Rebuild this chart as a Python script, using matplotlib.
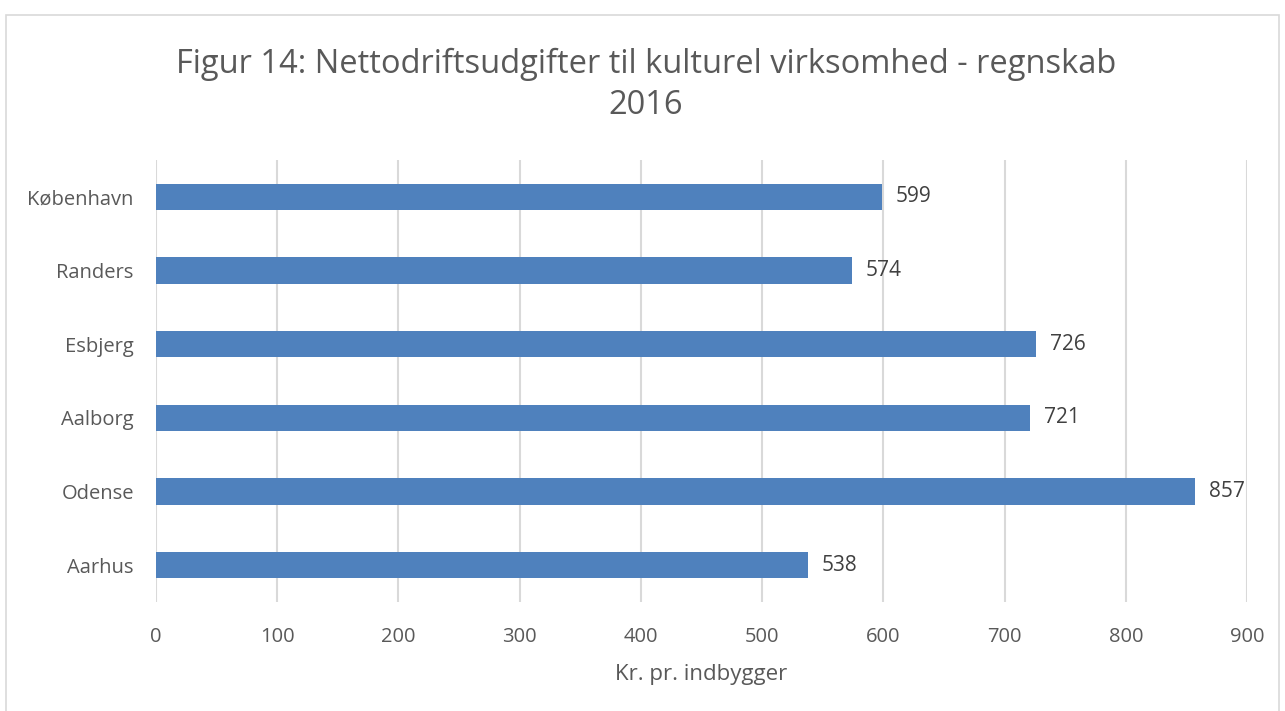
import matplotlib.pyplot as plt
from matplotlib.patches import Rectangle

plt.rcParams['font.family'] = ['Open Sans', 'DejaVu Sans']

# Data (bottom to top)
byer = ["Aarhus", "Odense", "Aalborg", "Esbjerg", "Randers", "København"]
udgifter = [538, 857, 721, 726, 574, 599]
xticks = [0, 100, 200, 300, 400, 500, 600, 700, 800, 900]

bar_color = "#4F81BD"
text_gray = "#595959"

fig = plt.figure(figsize=(12.85, 7.11), dpi=100)
ax = fig.add_axes([156 / 1285, 1 - 602 / 711, (1247 - 156) / 1285, (602 - 160) / 711])

ypos = range(len(byer))
ax.barh(ypos, udgifter, height=0.36, color=bar_color, zorder=3)

for y, v in zip(ypos, udgifter):
    ax.annotate(str(v), (v, y), xytext=(10, 0), textcoords="offset points",
                va="center", ha="left", fontsize=15, color="#404040")

ax.set_xlim(0, 900)
ax.set_ylim(-0.5, len(byer) - 0.5)
ax.set_yticks(list(ypos))
ax.set_yticklabels(byer, fontsize=14.5, color=text_gray)
ax.set_xticks(xticks)
ax.set_xticklabels([str(t) for t in xticks], fontsize=14.5, color=text_gray)
ax.tick_params(axis="both", length=0)
ax.tick_params(axis="x", pad=18)
ax.tick_params(axis="y", pad=16)
ax.grid(axis="x", color="#D9D9D9", linewidth=1.5, zorder=0)
for s in ax.spines.values():
    s.set_visible(False)

ax.set_xlabel("Kr. pr. indbygger", fontsize=16, color=text_gray, labelpad=12)

fig.text(646 / 1285, 1 - 85 / 711,
         "Figur 14: Nettodriftsudgifter til kulturel virksomhed - regnskab\n2016",
         ha="center", va="center", fontsize=23.5, color=text_gray, linespacing=1.3)

# light frame around the chart area
fig.patches.append(Rectangle((6 / 1285, -0.05), (1279 - 6) / 1285, 1.05 - 15 / 711,
                             transform=fig.transFigure, fill=False,
                             edgecolor="#D9D9D9", linewidth=1.2))

fig.savefig("out.png", dpi=100)
